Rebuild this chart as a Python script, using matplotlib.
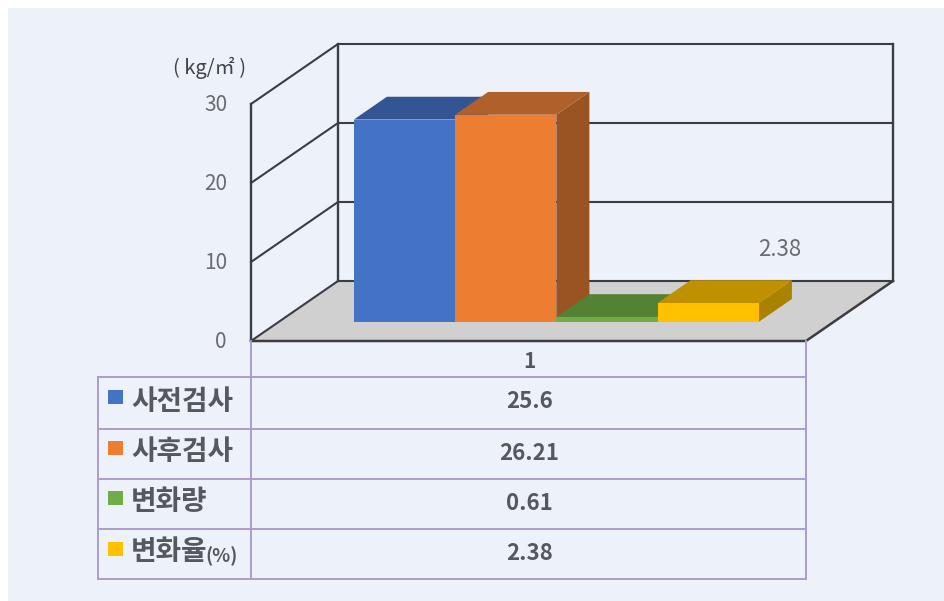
import matplotlib
matplotlib.use("Agg")
import matplotlib.pyplot as plt
from matplotlib.patches import Polygon, Rectangle

plt.rcParams['font.family'] = ['Noto Sans CJK KR', 'DejaVu Sans']

# data
series_names = ['사전검사', '사후검사', '변화량', '변화율']
name_suffix = ['', '', '', '(%)']
series_values = [25.6, 26.21, 0.61, 2.38]
series_labels = ['25.6', '26.21', '0.61', '2.38']
category = '1'
y_ticks = [0, 10, 20, 30]
labelled_value = '2.38'

# colours: front, top, side
front_colors = ['#4472C4', '#ED7D31', '#70AD47', '#FFC000']
top_colors = ['#335593', '#B0602A', '#548235', '#BF9000']
side_colors = ['#2F5597', '#9A5424', '#47702D', '#AB8200']

# oblique box: pixel position of the front left corner of the floor
X0, Y0 = 251, 341
BOX_W = 555
DEPTH_X, DEPTH_Y = 87, -60
PX_PER_UNIT = 7.9
GAP = 75
BAR_W = (BOX_W - 2 * GAP) / len(series_values)
BAR_DEPTH_FRONT = 0.32
BAR_DEPTH_BACK = 0.70

LINE = '#3A3E42'
TABLE = '#AC9DCB'
TEXT = '#55595E'
TICK = '#6A6C70'
PANEL = '#EDF1F9'


def proj(x, v, d):
    """x along the floor in px, v in chart units, d depth 0..1"""
    return (X0 + x + d * DEPTH_X, Y0 - v * PX_PER_UNIT + d * DEPTH_Y)


fig = plt.figure(figsize=(9.45, 6.01), dpi=100, facecolor='white')
ax = fig.add_axes([0, 0, 1, 1])
ax.set_xlim(0, 945)
ax.set_ylim(601, 0)
ax.axis('off')

ax.add_patch(Rectangle((8, 8), 937, 593, fc=PANEL, ec='none', zorder=0))

# floor
floor = [proj(0, 0, 0), proj(BOX_W, 0, 0), proj(BOX_W, 0, 1), proj(0, 0, 1)]
ax.add_patch(Polygon(floor, fc='#D0D0D0', ec='none', zorder=1))

# gridlines on the side and back walls
top = y_ticks[-1]
for t in y_ticks:
    a, b, c = proj(0, t, 0), proj(0, t, 1), proj(BOX_W, t, 1)
    ax.plot([a[0], b[0], c[0]], [a[1], b[1], c[1]], color=LINE, lw=1.5, zorder=2,
            solid_joinstyle='miter')
    ax.text(a[0] - 24, a[1] + 1, str(t), ha='right', va='center', fontsize=15,
            color=TICK, zorder=6)

# wall verticals
for x, d in [(0, 0), (0, 1), (BOX_W, 1)]:
    a, b = proj(x, 0, d), proj(x, top, d)
    ax.plot([a[0], b[0]], [a[1], b[1]], color=LINE, lw=1.7, zorder=2)

# front and right floor edges
a, b, c = proj(0, 0, 0), proj(BOX_W, 0, 0), proj(BOX_W, 0, 1)
ax.plot([a[0], b[0], c[0]], [a[1], b[1], c[1]], color=LINE, lw=1.8, zorder=2,
        solid_joinstyle='miter')

# bars
for i, v in enumerate(series_values):
    x1 = GAP + i * BAR_W
    x2 = x1 + BAR_W
    d1, d2 = BAR_DEPTH_FRONT, BAR_DEPTH_BACK
    ax.add_patch(Polygon([proj(x2, 0, d1), proj(x2, v, d1), proj(x2, v, d2), proj(x2, 0, d2)],
                         fc=side_colors[i], ec='none', zorder=3 + i * 0.1))
    ax.add_patch(Polygon([proj(x1, v, d1), proj(x2, v, d1), proj(x2, v, d2), proj(x1, v, d2)],
                         fc=top_colors[i], ec='none', zorder=3 + i * 0.1))
    ax.add_patch(Polygon([proj(x1, 0, d1), proj(x2, 0, d1), proj(x2, v, d1), proj(x1, v, d1)],
                         fc=front_colors[i], ec='none', zorder=3.05 + i * 0.1))

ax.text(780, 250, labelled_value, ha='center', va='center', fontsize=16, color=TICK, zorder=6)
ax.text(210, 68, '( kg/㎡ )', ha='center', va='center', fontsize=14.5, color='#404448', zorder=6)

# data table
table_left = 98
table_mid = X0
table_right = X0 + BOX_W
row_y = [377, 429, 479, 529, 579]
swatch_y = [390, 441, 491, 542]
ax.plot([table_mid, table_mid], [Y0, row_y[-1]], color=TABLE, lw=1.4, zorder=2)
ax.plot([table_right, table_right], [Y0, row_y[-1]], color=TABLE, lw=1.4, zorder=2)
ax.plot([table_left, table_left], [row_y[0], row_y[-1]], color=TABLE, lw=1.4, zorder=2)
for y in row_y:
    ax.plot([table_left, table_right], [y, y], color=TABLE, lw=1.4, zorder=2)

ax.text((table_mid + table_right) / 2 + 1, 362, category, ha='center', va='center',
        fontsize=15, fontweight='bold', color=TEXT, zorder=6)

for i, name in enumerate(series_names):
    mid = (row_y[i] + row_y[i + 1]) / 2
    ax.add_patch(Rectangle((108, swatch_y[i]), 15, 14, fc=front_colors[i], ec='none', zorder=5))
    ax.text(131, mid - 1.5, name, ha='left', va='center', fontsize=20, fontweight='bold',
            color=TEXT, zorder=6)
    if name_suffix[i]:
        ax.text(205, mid + 2, name_suffix[i], ha='left', va='center', fontsize=13.5,
                fontweight='bold', color=TEXT, zorder=6)
    ax.text((table_mid + table_right) / 2 + 1, mid - 1, series_labels[i], ha='center', va='center',
            fontsize=16, fontweight='bold', color=TEXT, zorder=6)

fig.savefig('out.png', dpi=100, facecolor='white')
